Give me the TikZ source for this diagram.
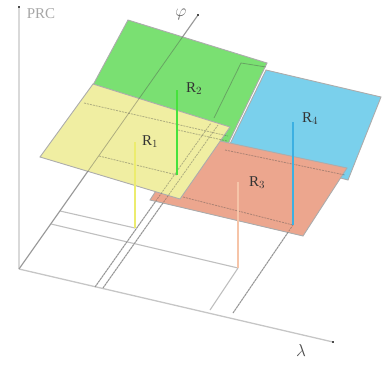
\documentclass[tikz,border=0pt]{standalone}
\usepackage{fontspec}
\setmainfont{Liberation Serif}
\definecolor{pgreen}{RGB}{122,224,114}
\definecolor{pyellow}{RGB}{240,238,162}
\definecolor{pcyan}{RGB}{122,208,236}
\definecolor{psalmon}{RGB}{236,166,142}
\definecolor{vyellow}{RGB}{236,236,110}
\definecolor{vgreen}{RGB}{70,226,60}
\definecolor{vcyan}{RGB}{60,176,226}
\definecolor{vsalmon}{RGB}{246,196,168}
\begin{document}
\begin{tikzpicture}[x=1pt,y=-1pt,
  axis/.style={draw=gray!45, line width=1.3pt},
  floorline/.style={draw=gray!50, line width=1.1pt},
  seeline/.style={draw=black!70, line width=0.8pt, opacity=0.4, dash pattern=on 2pt off 1pt},
  plane/.style={draw=gray!65, line width=0.9pt},
  tipmark/.style={fill=black!70, inner sep=0pt, minimum size=2.8pt},
  vline/.style={line width=1.8pt},
  lab/.style={font=\fontsize{15}{17}\selectfont, text=black!80, inner sep=0pt}]
\useasboundingbox (0,0) rectangle (382,364);
% key points
\coordinate (O) at (19,269);
\coordinate (Ztop) at (19,8);
\coordinate (Ltip) at (333,342);
\coordinate (Ptip) at (198,15);
\coordinate (yf) at (135,228);
\coordinate (gf) at (177,175);
\coordinate (sf) at (238,268);
\coordinate (cf) at (293,225);
\coordinate (a1) at (95,287);
\coordinate (a1t) at (211,123);
\coordinate (a2) at (103,288);
\coordinate (a2t) at (218,125);
\coordinate (b32) at (51,224);
\coordinate (b41) at (60,211);
\coordinate (b80) at (99,156);
\coordinate (s0) at (210,310);
\coordinate (c0) at (233,313);
% axes
\draw[axis, draw=gray!30, line width=2.2pt] (O) -- (Ztop);
\node[tipmark] (zt) at (19,7) {};
\draw[axis] (O) -- (Ltip);
\node[tipmark] (lt) at (Ltip) {};
\draw[axis] (O) -- (Ptip);
\node[tipmark] (pt) at (Ptip) {};
% floor lines
\draw[floorline] (a1) -- (a1t);
\draw[floorline] (a2) -- (a2t);
\draw[floorline] (b32) -- (sf);
\draw[floorline] (s0) -- (sf);
\draw[floorline] (b41) -- (yf);
\draw[floorline] (c0) -- (cf);
\draw[floorline] (b80) -- (gf);
% planes
\draw[plane, fill=pgreen] (128,20) coordinate (g1) -- (267,63) coordinate (g2) -- (226,148) coordinate (g3) -- (93,85) coordinate (g4) -- cycle;
\draw[plane, fill=pcyan] (266,70) coordinate (c1) -- (381,97) coordinate (c2) -- (348,180) coordinate (c3) -- (228,148) coordinate (c4) -- cycle;
\draw[plane, fill=psalmon] (192,135) coordinate (s1) -- (347,168) coordinate (s2) -- (303,236) coordinate (s3) -- (150,200) coordinate (s4) -- cycle;
\draw[plane, fill=pyellow] (93,84) coordinate (y1) -- (230,127) coordinate (y2) -- (180,199) coordinate (y3) -- (40,157) coordinate (y4) -- cycle;
% lines seen through the planes
\draw[seeline, dash pattern=] (O) -- (Ptip);
\draw[seeline] (a1) -- (a1t);
\draw[seeline] (a2) -- (a2t);
\draw[seeline] (b80) -- (gf);
\draw[seeline] (c0) -- (cf);
\coordinate (sl1) at (183,197);
\draw[seeline] (sl1) -- (cf);
\coordinate (sl2a) at (225,150);
\coordinate (sl2b) at (345,175);
\draw[seeline] (sl2a) -- (sl2b);
\coordinate (yl1a) at (84,103);
\coordinate (yl1b) at (228,136);
\draw[seeline] (yl1a) -- (yl1b);
\coordinate (yl2a) at (178,130);
\coordinate (yl2b) at (227,141);
\draw[seeline] (yl2a) -- (yl2b);
\coordinate (gl0) at (241,63);
\coordinate (gl1) at (214,118);
\coordinate (gl2) at (266,67);
\draw[seeline, dash pattern=] (gl1) -- (gl0) -- (gl2);
% vertical lines
\draw[vline, draw=vyellow] (yf) -- (135,142) coordinate (yt);
\draw[vline, draw=vgreen] (gf) -- (177,90) coordinate (gt);
\draw[vline, draw=vsalmon] (sf) -- (238,182) coordinate (st);
\draw[vline, draw=vcyan, line width=2.2pt] (cf) -- (293,122) coordinate (ct);
% labels
\node[lab] (R1) at (150,142) {R$_{1}$};
\node[lab] (R2) at (194,89) {R$_{2}$};
\node[lab] (R3) at (257,183) {R$_{3}$};
\node[lab] (R4) at (310,119) {R$_{4}$};
\node[lab, text=gray!70] (prc) at (41,14) {PRC};
\node[lab, text=black!60, font=\fontsize{17}{19}\selectfont] (phi) at (181,14) {$\varphi$};
\node[lab, text=black!70, font=\fontsize{17}{19}\selectfont] (lam) at (301,350) {$\lambda$};
\end{tikzpicture}
\end{document}
